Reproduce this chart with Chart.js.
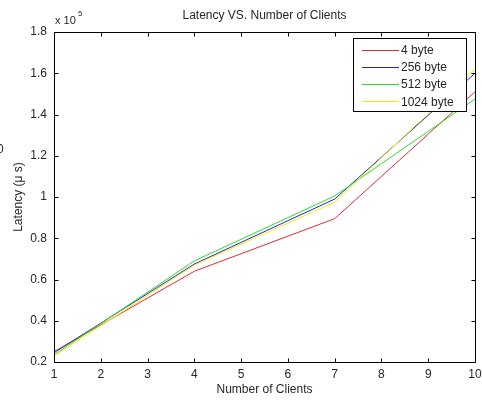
<!DOCTYPE html>
<html>
<head>
<meta charset="utf-8">
<script src="https://cdn.jsdelivr.net/npm/chart.js@4.4.1/dist/chart.umd.min.js"></script>
<style>
  html, body { margin: 0; padding: 0; background: #fff; }
</style>
</head>
<body>
<canvas id="latency" width="482" height="400"></canvas>
<script>
// number of clients and measured latency (µs) per message size
const clients = [1, 4, 7, 10];
const lat4 = [25000, 64000, 89500, 151000];
const lat256 = [24500, 67500, 99000, 160000];
const lat512 = [23500, 69000, 100500, 147500];
const lat1024 = [23000, 67000, 97500, 162000];

const seriesNames = ["4 byte", "256 byte", "512 byte", "1024 byte"];
const seriesColors = ["#e02b35", "#2424d6", "#2bdc2b", "#eeee00"];
const xTicks = [1, 2, 3, 4, 5, 6, 7, 8, 9, 10];

const FONT = '"Liberation Sans", Arial, sans-serif';
const TEXT = "#262626";

function pts(ys) {
    return clients.map((x, i) => ({ x: x, y: ys[i] }));
}

const allSeries = [lat4, lat256, lat512, lat1024];

// boxed axes with inward ticks, title, exponent and legend
const matlabAxes = {
    id: "matlabAxes",
    afterDraw(chart) {
        const ctx = chart.ctx;
        const a = chart.chartArea;
        const xs = chart.scales.x;
        const ys = chart.scales.y;
        const L = Math.round(a.left) + 0.5, R = Math.round(a.right) + 0.5;
        const T = Math.round(a.top) + 0.5, B = Math.round(a.bottom) + 0.5;
        const tl = 4;

        ctx.save();
        ctx.strokeStyle = "#000";
        ctx.lineWidth = 1;
        ctx.beginPath();
        ctx.rect(L, T, R - L, B - T);
        xs.ticks.forEach(t => {
            const px = Math.round(xs.getPixelForValue(t.value)) + 0.5;
            ctx.moveTo(px, B); ctx.lineTo(px, B - tl);
            ctx.moveTo(px, T); ctx.lineTo(px, T + tl);
        });
        ys.ticks.forEach(t => {
            const py = Math.round(ys.getPixelForValue(t.value)) + 0.5;
            ctx.moveTo(L, py); ctx.lineTo(L + tl, py);
            ctx.moveTo(R, py); ctx.lineTo(R - tl, py);
        });
        ctx.stroke();

        // title
        ctx.fillStyle = TEXT;
        ctx.font = "12px " + FONT;
        ctx.textAlign = "center";
        ctx.textBaseline = "middle";
        ctx.fillText("Latency VS. Number of Clients", (a.left + a.right) / 2, 16);

        // exponent above the y axis
        ctx.textAlign = "left";
        ctx.font = "11px " + FONT;
        ctx.fillText("x 10", a.left + 1, 21);
        ctx.font = "8px " + FONT;
        ctx.fillText("5", a.left + 24, 14);

        // stray digit at the left border
        ctx.font = "12px " + FONT;
        ctx.fillText("0", -3, 150);

        // legend
        const bx = 353.5, by = 38.5, bw = 113, bh = 73;
        ctx.fillStyle = "#fff";
        ctx.fillRect(bx, by, bw, bh);
        ctx.strokeStyle = "#000";
        ctx.strokeRect(bx, by, bw, bh);
        ctx.font = "12px " + FONT;
        chart.data.datasets.forEach((ds, i) => {
            const ry = by + 11 + i * 17.3;
            ctx.strokeStyle = ds.borderColor;
            ctx.beginPath();
            ctx.moveTo(362, Math.round(ry) + 0.5);
            ctx.lineTo(399, Math.round(ry) + 0.5);
            ctx.stroke();
            ctx.fillStyle = TEXT;
            ctx.fillText(ds.label, 401, ry + 1);
        });
        ctx.restore();
    }
};

new Chart(document.getElementById("latency"), {
    type: "line",
    data: {
        datasets: allSeries.map((s, i) => ({
            label: seriesNames[i],
            data: pts(s),
            borderColor: seriesColors[i],
            backgroundColor: seriesColors[i],
            borderWidth: 1,
            pointRadius: 0,
            tension: 0,
            order: allSeries.length - i
        }))
    },
    options: {
        responsive: false,
        animation: false,
        events: [],
        layout: { padding: { top: 32, right: 7, left: 0, bottom: 0 } },
        plugins: {
            legend: { display: false },
            title: { display: false },
            tooltip: { enabled: false }
        },
        scales: {
            x: {
                type: "linear",
                min: 1,
                max: 10,
                afterBuildTicks: s => { s.ticks = xTicks.map(v => ({ value: v })); },
                afterFit: s => { s.height = 38; s.paddingLeft = 0; s.paddingRight = 0; },
                grid: { display: false, drawTicks: false },
                border: { display: false },
                ticks: {
                    padding: 5,
                    maxRotation: 0,
                    color: TEXT,
                    font: { family: FONT, size: 12 }
                },
                title: {
                    display: true,
                    text: "Number of Clients",
                    color: TEXT,
                    font: { family: FONT, size: 12 },
                    padding: { top: 0, bottom: 3 }
                }
            },
            y: {
                min: 20000,
                max: 180000,
                afterFit: s => { s.width = 54; },
                grid: { display: false, drawTicks: false },
                border: { display: false },
                ticks: {
                    stepSize: 20000,
                    padding: 7,
                    color: TEXT,
                    font: { family: FONT, size: 12 },
                    callback: v => String(parseFloat((v / 1e5).toFixed(1)))
                },
                title: {
                    display: true,
                    text: "Latency (\u03bc s)",
                    color: TEXT,
                    font: { family: FONT, size: 12 },
                    padding: { top: 11, bottom: 0 }
                }
            }
        }
    },
    plugins: [matlabAxes]
});
</script>
</body>
</html>
